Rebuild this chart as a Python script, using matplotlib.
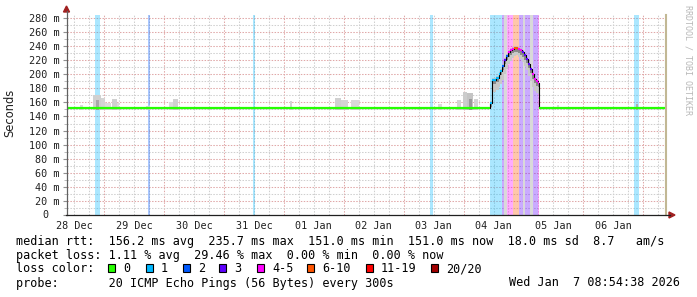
import matplotlib
matplotlib.use('Agg')
import matplotlib.pyplot as plt
import matplotlib.dates as mdates
from matplotlib.patches import Polygon, Rectangle
from matplotlib.lines import Line2D
from matplotlib.transforms import blended_transform_factory
import pandas as pd

W, H, DPI = 697, 297, 100
MONO = 'DejaVu Sans Mono'

# ---------------- data ----------------
BASE = pd.Timestamp('2025-12-28 00:00')          # hour offsets below are from this instant
END = pd.Timestamp('2026-01-07 08:54:38')
START = END - pd.Timedelta(days=10)

loss_labels = ['0', '1', '2', '3', '4-5', '6-10', '11-19', '20/20']
loss_colors = ['#26ff00', '#00b8ff', '#0059ff', '#5e00ff', '#ff00ff', '#ff5500', '#ff0000', '#a10000']

# median rtt as steps: start hour, value (ms), loss level index
med_h = [8.9, 178.4, 179.2, 180.8, 182.0, 182.8, 183.6, 184.4, 185.2, 186.0, 186.8,
         187.6, 188.4, 189.2, 190.0, 190.8, 191.6, 192.4, 193.2, 194.0, 194.8,
         195.6, 196.4, 197.2, 198.0, 198.4, 248.9]
med_v = [152, 159, 192, 195, 200, 205, 212, 220, 226, 231, 234,
         236, 237, 237, 236, 234, 231, 227, 222, 215, 208,
         200, 193, 190, 188, 152, 152]
med_loss = [0, 1, 1, 1, 1, 1, 2, 3, 2, 4, 4,
            4, 5, 5, 4, 4, 3, 3, 3, 3, 3,
            4, 4, 4, 4, 0, 0]

# lower edge of the smoke under the spike
spike_lo = [152, 175, 178, 182, 186, 192, 200, 208, 214, 219, 223,
            226, 227, 225, 222, 218, 212, 206, 198, 190, 182,
            176, 173, 172]

# loss background bands: start hour, end hour, loss level (-1 = grey)
band_h0 = [20.4, 41.6, 83.6, 154.4, 178.4, 183.6, 184.4, 185.6, 188.0, 190.4, 192.0, 192.8, 194.8, 196.0, 198.0, 236.4]
band_h1 = [22.4, 42.4, 84.4, 155.6, 183.6, 184.4, 185.6, 188.0, 190.4, 192.0, 192.8, 194.8, 196.0, 198.0, 198.4, 238.4]
band_lv = [1, 2, 1, 1, 1, 3, -1, 4, 5, 3, -1, 3, -1, 3, 4, 1]

# smoke blobs: start hour, end hour, top value, shade
smoke_h0 = [14.4, 19.6, 20.8, 22.8, 24.4, 27.2, 29.2, 40.8, 50.0, 51.6, 98.4, 116.4, 118.8,
            122.8, 157.6, 165.2, 167.6, 169.2, 170.0, 172.0, 205.6, 237.2]
smoke_h1 = [15.6, 22.8, 22.0, 24.4, 26.8, 29.2, 30.0, 42.4, 51.6, 53.6, 99.2, 118.8, 121.6,
            126.0, 159.2, 166.8, 169.2, 171.6, 171.2, 173.6, 206.4, 238.0]
smoke_top = [156, 170, 164, 166, 159, 165, 159, 155, 160, 165, 162, 166, 163,
             163, 158, 163, 175, 173, 165, 165, 156, 158]
smoke_shade = ['#dcdcdc', '#d0d0d0', '#a8a8a8', '#d4d4d4', '#dcdcdc', '#d0d0d0', '#dcdcdc', '#d8d8d8',
               '#dcdcdc', '#d0d0d0', '#d4d4d4', '#d0d0d0', '#d4d4d4', '#d8d8d8', '#dcdcdc', '#d4d4d4',
               '#cccccc', '#c4c4c4', '#999999', '#d4d4d4', '#dcdcdc', '#b0b0b0']

stats_line1 = 'median rtt:  156.2 ms avg  235.7 ms max  151.0 ms min  151.0 ms now  18.0 ms sd  8.7   am/s'
stats_line2 = 'packet loss: 1.11 % avg  29.46 % max  0.00 % min  0.00 % now'
probe_line = 'probe:       20 ICMP Echo Pings (56 Bytes) every 300s'
stamp = 'Wed Jan  7 08:54:38 2026'


def T(h):
    return BASE + pd.Timedelta(hours=h)


# ---------------- figure ----------------
fig = plt.figure(figsize=(W / DPI, H / DPI), dpi=DPI, facecolor='white')
L, R, B, TP = 66.5, 665.5, 215.0, 15.0
ax = fig.add_axes([L / W, 1 - B / H, (R - L) / W, (B - TP) / H])
ax.set_facecolor('white')
ax.set_xlim(START, END)
ax.set_ylim(0, (B - TP) / 0.7036)

for s in ax.spines.values():
    s.set_visible(False)

# grid
ax.yaxis.set_major_locator(plt.MultipleLocator(20))
ax.yaxis.set_minor_locator(plt.MultipleLocator(10))
ax.xaxis.set_major_locator(mdates.HourLocator(byhour=[0]))
ax.xaxis.set_minor_locator(mdates.HourLocator(byhour=[6, 12, 18]))
ax.xaxis.set_major_formatter(plt.NullFormatter())
ax.xaxis.set_minor_formatter(plt.FuncFormatter(
    lambda x, p: mdates.num2date(x).strftime('%d %b') if mdates.num2date(x).hour == 12 else ''))
ax.yaxis.set_major_formatter(plt.FuncFormatter(lambda v, p: '' if v == 0 else f'{int(v)} m'))
ax.set_axisbelow(True)
ax.grid(which='minor', color='#cfcfcf', linestyle=(0, (1.4, 1.4)), linewidth=0.75)
ax.grid(which='major', color='#e0a8a8', linestyle=(0, (1.4, 1.4)), linewidth=0.75)
ax.tick_params(axis='y', which='major', length=3, color='#909090', pad=2,
               labelsize=7.3, labelfontfamily=MONO, labelcolor='#202020')
ax.tick_params(axis='y', which='minor', length=2, color='#b0b0b0')
ax.tick_params(axis='x', which='both', length=0, pad=4, labelsize=7.3, labelfontfamily=MONO,
               labelcolor='#202020')
ax.text(-0.0401, 0, '0', transform=blended_transform_factory(ax.transAxes, ax.transData),
        ha='left', va='center', fontsize=7.3, family=MONO, color='#202020')

# loss bands
for h0, h1, lv in zip(band_h0, band_h1, band_lv):
    if lv < 0:
        ax.axvspan(T(h0), T(h1), color='#d9d9d9', lw=0, zorder=1)
    else:
        ax.axvspan(T(h0), T(h1), color=loss_colors[lv], alpha=0.33, lw=0, zorder=1)

# smoke
for h0, h1, top, sh in zip(smoke_h0, smoke_h1, smoke_top, smoke_shade):
    ax.fill_between([T(h0), T(h1)], [149, 149], [top, top], color=sh, lw=0, zorder=2)
for i, lo in enumerate(spike_lo):
    j = i + 1
    ax.fill_between([T(med_h[j]), T(med_h[j + 1])], [lo, lo], [med_v[j] + 3, med_v[j] + 3],
                    color='#c8c8c8', lw=0, zorder=2)
    ax.fill_between([T(med_h[j]), T(med_h[j + 1])], [med_v[j] - 6, med_v[j] - 6],
                    [med_v[j], med_v[j]], color='#8a8a8a', lw=0, zorder=2)

# median: black step outline and coloured steps
times = [T(h) for h in med_h]
ax.step(times, med_v, where='post', color='black', lw=0.8, zorder=3)
for i in range(len(med_v) - 1):
    ax.plot([times[i], times[i + 1]], [med_v[i], med_v[i]], color=loss_colors[med_loss[i]],
            lw=1.6, solid_capstyle='butt', zorder=4)

# end-of-data line
ax.axvline(END, color='#c2b894', lw=1.5, clip_on=False, zorder=5)


def px(x, y):
    return (x / W, 1 - y / H)


fig.add_artist(Line2D([px(66.5, 0)[0]] * 2, [px(0, 215)[1], px(0, 11)[1]], color='#606060', lw=0.9))
fig.add_artist(Line2D([px(66, 0)[0], px(670, 0)[0]], [px(0, 215)[1]] * 2, color='#202020', lw=0.9))
fig.add_artist(Polygon([px(66.5, 6), px(63.5, 12), px(69.5, 12)], closed=True,
                       transform=fig.transFigure, color='#a02020'))
fig.add_artist(Polygon([px(675, 215), px(669, 212), px(669, 218)], closed=True,
                       transform=fig.transFigure, color='#a02020'))

fig.text(*px(10, 113), 'Seconds', rotation=90, ha='center', va='center', fontsize=8.3,
         family='DejaVu Sans', color='#202020')
fig.text(*px(688, 60), 'RRDTOOL / TOBI OETIKER', rotation=270, ha='center', va='center',
         fontsize=6.0, family=MONO, color='#b8b8b8')

fs = 8.45
fig.text(*px(16, 241), stats_line1, ha='left', va='center', fontsize=fs, family=MONO, color='black')
fig.text(*px(16, 255), stats_line2, ha='left', va='center', fontsize=fs, family=MONO, color='black')
fig.text(*px(16, 269), 'loss color:', ha='left', va='center', fontsize=fs, family=MONO, color='black')
box_x = [108, 146, 183, 219, 257, 307, 366, 431]
for bx, lab, col in zip(box_x, loss_labels, loss_colors):
    fig.add_artist(Rectangle(px(bx, 272), 7 / W, 8 / H, transform=fig.transFigure,
                             facecolor=col, edgecolor='black', lw=0.8))
    fig.text(*px(bx + 15, 269), lab, ha='left', va='center', fontsize=fs, family=MONO, color='black')
fig.text(*px(16, 283), probe_line, ha='left', va='center', fontsize=fs, family=MONO, color='black')
fig.text(*px(680, 283), stamp, ha='right', va='center', fontsize=fs, family=MONO, color='black')

fig.savefig('out.png', dpi=DPI, facecolor='white')
